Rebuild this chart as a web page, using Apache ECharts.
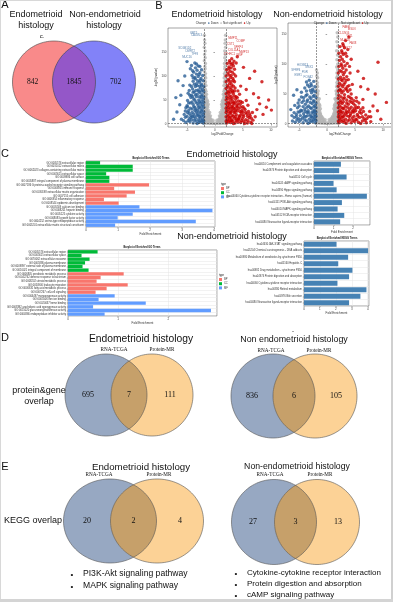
<!DOCTYPE html>
<html><head><meta charset="utf-8">
<script src="https://cdn.jsdelivr.net/npm/echarts@6/dist/echarts.min.js"></script>
<style>html,body{margin:0;padding:0;background:#fff}#c{width:393px;height:602px}</style>
</head><body><div id="c"></div>
<script>
// ---------------- DATA ----------------
const vennA_sets = ['Endometrioid', 'Non-endometrioid'];
const vennA_counts = [842, 1845, 702];
const vennDE_sets = ['RNA-TCGA', 'Protein-MR'];
const vennD_endo = [695, 7, 111];
const vennD_non = [836, 6, 105];
const vennE_endo = [20, 2, 4];
const vennE_non = [27, 3, 13];
const keggShared_endo = ['PI3K-Akt signaling pathway', 'MAPK signaling pathway'];
const keggShared_non = ['Cytokine-cytokine receptor interaction', 'Protein digestion and absorption', 'cAMP signaling pathway'];

// volcano (log2FoldChange, -log10 pvalue)
const volcL_up = [[2.1,2],[2.4,5],[2.8,3],[3.2,6],[3.6,2],[4.1,4],[4.6,3],[5.2,5],[5.8,2],[6.4,4],
[2.2,10],[2.6,13],[3.0,9],[3.5,12],[3.9,10],[4.4,14],[4.9,11],[5.5,9],[6.1,13],[6.8,8],
[2.3,19],[2.7,22],[3.1,18],[3.4,24],[3.8,20],[4.3,17],[4.7,23],[5.1,19],[5.7,21],[6.3,17],[7.2,15],
[2.1,28],[2.5,31],[2.9,27],[3.3,33],[3.7,29],[4.2,32],[4.8,28],[5.4,30],[6.0,26],[6.7,24],
[2.2,37],[2.6,40],[3.0,36],[3.5,42],[3.9,38],[4.5,41],[5.0,36],[5.9,39],
[2.4,46],[2.8,50],[3.2,47],[3.7,52],[4.2,48],[4.9,45],[5.6,49],
[2.1,56],[2.5,60],[2.9,58],[3.3,63],[3.8,57],[4.4,62],
[2.3,68],[2.7,72],[3.1,70],[3.6,75],[4.1,69],
[2.2,80],[2.6,84],[3.0,82],[3.5,88],[4.6,79],
[2.4,93],[2.8,97],[3.2,95],[3.7,100],
[2.3,106],[2.7,110],[3.1,108],[3.5,114],
[2.5,119],[2.9,124],[3.3,121],[3.8,127],
[2.6,132],[3.0,136],[3.4,131],[4.0,140],
[7.5,30],[8.0,42],[8.6,20],[9.2,35],[10.1,29],[7.8,55],[6.9,63],[5.6,72],[8.4,88],[6.2,95],[9.6,50],[7.1,110],[5.1,118],
[2.0,6],[2.5,8],[2.9,7],[3.3,1],[3.8,7],[4.3,9],[4.8,7],[5.3,1],[5.9,7],[6.6,1],
[2.0,15],[2.4,16],[2.8,14],[3.3,16],[3.7,15],[4.2,11],[4.6,18],[5.1,15],[5.8,16],[6.5,12],
[2.0,24],[2.4,26],[2.8,24],[3.2,29],[3.6,25],[4.0,27],[4.5,26],[5.0,25],[5.5,24],[6.2,21],
[2.0,33],[2.4,35],[2.8,33],[3.2,38],[3.6,33],[4.0,36],[4.6,35],[5.2,33],
[2.0,42],[2.4,43],[2.8,44],[3.3,44],[3.7,46],[4.1,42],[4.6,47],
[2.0,50],[2.3,53],[2.7,55],[3.1,53],[3.5,58],[4.0,55],
[2.0,63],[2.4,65],[2.8,66],[3.2,67],[3.5,69],
[2.0,74],[2.4,77],[2.9,76],[3.3,79],[2.0,88],[2.5,90],[2.9,88],[3.3,91],
[2.0,100],[2.5,102],[2.9,101],[3.4,104],[2.1,113],[2.5,115],[2.9,117],[2.2,126],[2.7,128],[3.2,126]];
const volcL_down = [[-2.1,2],[-2.5,4],[-2.9,3],[-3.4,6],[-3.9,2],[-4.5,5],[-5.2,3],
[-2.2,10],[-2.6,13],[-3.0,9],[-3.5,12],[-4.0,15],[-4.6,11],[-5.3,14],[-6.0,10],
[-2.1,20],[-2.5,23],[-2.9,19],[-3.3,25],[-3.8,21],[-4.3,18],[-4.9,24],[-5.5,20],
[-2.3,30],[-2.7,33],[-3.1,29],[-3.6,35],[-4.1,31],[-4.7,28],[-5.2,34],
[-2.2,40],[-2.6,43],[-3.0,39],[-3.4,46],[-3.9,41],[-4.4,44],[-5.0,38],
[-2.1,51],[-2.5,54],[-2.9,50],[-3.3,57],[-3.8,52],[-4.3,55],[-4.9,49],
[-2.3,61],[-2.7,65],[-3.2,62],[-3.7,67],[-4.2,60],[-4.8,64],
[-2.2,72],[-2.6,75],[-3.0,71],[-3.5,78],[-4.0,73],[-4.6,70],
[-2.4,83],[-2.8,87],[-3.3,84],[-3.9,89],[-4.5,81],
[-2.5,95],[-3.0,99],[-3.5,94],[-4.1,101],
[-2.7,107],[-3.2,112],[-3.8,108],[-4.4,115],
[-3.0,121],[-3.6,127],[-4.2,122],
[-6.3,40],[-6.8,25],[-7.4,10],[-6.1,60],[-5.7,80],[-5.4,100],[-6.6,90],[-5.0,130],[-7.0,55],
[-2.0,6],[-2.3,7],[-2.7,7],[-3.2,1],[-3.7,8],[-4.2,9],[-4.8,7],[-5.6,7],
[-2.0,15],[-2.4,17],[-2.8,15],[-3.2,17],[-3.7,16],[-4.3,14],[-5.0,16],
[-2.0,25],[-2.4,27],[-2.8,25],[-3.2,21],[-3.6,28],[-4.1,24],[-4.6,22],[-5.3,27],
[-2.0,35],[-2.4,37],[-2.9,35],[-3.4,31],[-3.8,36],[-4.4,33],[-4.9,36],
[-2.0,45],[-2.4,47],[-2.8,46],[-3.2,43],[-3.6,50],[-4.1,46],[-4.7,44],
[-2.0,56],[-2.4,58],[-2.8,57],[-3.5,61],[-4.0,57],[-4.5,60],
[-2.0,67],[-2.4,69],[-2.9,68],[-3.4,70],[-3.9,66],
[-2.0,78],[-2.4,80],[-2.8,79],[-3.2,80],[-3.7,83],[-4.2,78],
[-2.1,90],[-2.6,91],[-3.1,90],[-3.6,97],[-2.2,101],[-2.8,103],[-3.3,104],[-3.9,96],
[-2.4,113],[-3.5,117],[-4.0,111],[-2.7,120],[-3.3,125]];
const volcL_ns = [[-1.9,1],[-1.4,1.5],[-0.9,1],[-0.4,0.8],[-1.7,4],[-1.2,3.5],[-0.7,3],[-1.9,7],[-1.5,6.5],[-1.0,6],[-0.5,5],
[-1.9,12],[-1.5,11],[-1.1,10],[-0.7,10],[-1.8,17],[-1.4,16],[-1.0,15],[-1.9,22],[-1.5,21],[-1.1,20],[-1.8,27],[-1.4,26],
[-1.9,33],[-1.5,32],[-1.8,39],[-1.3,38],[-1.9,45],[-1.5,44],[-1.8,51],[-1.4,50],[-1.9,57],[-1.6,56],[-1.8,63],[-1.9,69],[-1.6,68],
[-1.9,76],[-1.8,84],[-1.9,92],[-1.8,100],[-1.9,110],[-1.8,120],[-1.9,132],[-1.85,145],[-1.9,160],[-1.85,175],
[-1.6,2.5],[-1.1,2],[-0.6,1.8],[-0.2,2],[-1.7,9],[-1.3,8.5],[-0.8,8],[-0.35,8],[-1.7,13],[-1.3,13],[-0.9,12],[-1.6,19],[-1.2,18],[-0.8,17],
[-1.7,24],[-1.3,23],[-0.95,24],[-1.6,30],[-1.2,29],[-1.7,35],[-1.3,35],[-1.6,42],[-1.2,41],[-1.7,48],[-1.3,47],[-1.6,54],[-1.7,60],[-1.5,62],
[-1.7,72],[-1.6,80],[-1.7,88],[-1.65,96],[-1.7,105],[-1.75,115],[-1.7,126],[-1.75,138],[-1.75,152],[-1.8,168],[-1.9,185],
[1.9,1],[1.4,1.5],[0.9,1],[0.4,0.8],[1.7,4],[1.2,3.5],[0.7,3],[1.9,7],[1.5,6.5],[1.0,6],[0.5,5],
[1.9,12],[1.5,11],[1.1,10],[0.7,10],[1.8,17],[1.4,16],[1.0,15],[1.9,22],[1.5,21],[1.1,20],[1.8,27],[1.4,26],
[1.9,33],[1.5,32],[1.8,39],[1.3,38],[1.9,45],[1.5,44],[1.8,51],[1.4,50],[1.9,57],[1.6,56],[1.8,63],[1.9,69],[1.6,68],
[1.9,76],[1.8,84],[1.9,92],[1.8,100],[1.9,110],[1.8,120],[1.9,132],[1.85,145],[1.9,160],[1.85,175],
[1.6,2.5],[1.1,2],[0.6,1.8],[0.2,2],[1.7,9],[1.3,8.5],[0.8,8],[0.35,8],[1.7,13],[1.3,13],[0.9,12],[1.6,19],[1.2,18],[0.8,17],
[1.7,24],[1.3,23],[0.95,24],[1.6,30],[1.2,29],[1.7,35],[1.3,35],[1.6,42],[1.2,41],[1.7,48],[1.3,47],[1.6,54],[1.7,60],[1.5,62],
[1.7,72],[1.6,80],[1.7,88],[1.65,96],[1.7,105],[1.75,115],[1.7,126],[1.75,138],[1.75,152],[1.8,168],[1.9,185]];
const volcL_upGenes = [['MMP11',3.2,178],['COMP',4.6,172],['CST1',2.8,166],['SFRP4',4.2,160],['COL11A1',3.4,154],['MMP13',5.2,150],['CTHRC1',2.6,146],['IBSP',4.4,144]];
const volcL_downGenes = [['KRT5',-3.8,190],['CALML3',-3.3,184],['SCGB1D2',-5.4,158],['DMRT2',-4.4,152],['TFF3',-3.6,146],['MUC16',-5.0,140]];

const volcR_up = [[2.1,2],[2.6,4],[3.1,3],[3.7,5],[4.3,2],[4.9,4],[5.6,3],[6.3,5],[7.0,2],
[2.2,9],[2.7,11],[3.3,8],[3.9,12],[4.5,10],[5.1,8],[5.8,11],[6.6,9],[7.4,12],
[2.1,16],[2.5,18],[3.0,15],[3.6,19],[4.2,17],[4.8,20],[5.4,16],[6.1,18],[6.9,15],
[2.3,23],[2.8,26],[3.4,22],[4.0,25],[4.6,23],[5.3,27],[6.0,24],[7.6,21],
[2.2,31],[2.7,34],[3.2,30],[3.8,33],[4.4,36],[5.0,31],[5.7,35],
[2.4,39],[2.9,42],[3.5,40],[4.1,44],[4.8,39],[6.4,41],
[2.1,48],[2.6,52],[3.1,49],[3.7,54],[4.3,50],
[2.3,58],[2.8,62],[3.3,59],[3.9,64],
[2.2,68],[2.7,72],[3.2,69],[3.8,74],[4.5,66],
[2.4,78],[2.9,82],[3.5,79],[4.1,85],
[2.3,89],[2.8,93],[3.4,90],[4.0,96],
[2.5,100],[3.0,104],[3.6,101],[4.3,108],
[2.4,112],[2.9,116],[3.5,113],
[2.6,122],[3.1,127],[3.7,124],
[2.8,134],[3.3,139],[3.9,145],
[8.2,30],[9.0,22],[10.6,36],[8.6,50],[7.3,58],[9.1,103],[6.5,76],[5.5,88],[7.8,12],[9.6,8],[6.0,62],
[2.0,5],[2.4,7],[2.9,6],[3.4,1],[4.0,7],[4.6,6],[5.3,7],[6.0,1],[6.8,6],[7.8,4],
[2.0,12],[2.4,13],[2.9,12],[3.5,14],[4.1,14],[4.8,13],[5.5,13],[6.3,12],[7.1,9],
[2.0,20],[2.4,21],[2.8,20],[3.3,18],[3.9,21],[4.5,20],[5.1,22],[5.8,20],[6.5,21],
[2.0,27],[2.5,28],[3.0,26],[3.6,28],[4.3,28],[4.9,26],[5.6,28],[6.4,27],
[2.0,35],[2.4,36],[2.9,37],[3.5,35],[4.1,38],[4.7,34],[5.3,38],
[2.0,43],[2.5,45],[3.1,44],[3.8,46],[4.4,42],[5.2,44],
[2.0,55],[2.4,56],[2.9,55],[3.5,57],[4.1,57],[2.0,63],[2.5,65],[3.0,66],[3.6,62],
[2.0,75],[2.5,74],[3.0,76],[3.4,73],[2.0,85],[2.6,87],[3.1,86],[2.1,96],[2.6,97],[3.2,97],
[2.2,106],[2.7,108],[2.1,118],[2.7,119],[3.3,118],[2.3,129],[2.9,131]];
const volcR_down = [[-2.1,2],[-2.6,4],[-3.1,3],[-3.7,5],[-4.3,2],[-5.0,4],[-5.7,3],
[-2.2,9],[-2.7,11],[-3.2,8],[-3.8,12],[-4.4,10],[-5.1,9],[-5.9,11],
[-2.1,16],[-2.5,18],[-3.0,15],[-3.6,19],[-4.2,17],[-4.9,20],[-5.5,16],[-6.3,14],
[-2.3,23],[-2.8,26],[-3.4,22],[-4.0,25],[-4.7,23],[-5.3,27],
[-2.2,31],[-2.7,34],[-3.3,30],[-3.9,33],[-4.5,36],[-5.8,31],
[-2.4,39],[-2.9,42],[-3.5,40],[-4.2,44],[-5.0,40],
[-2.3,48],[-2.8,52],[-3.6,49],[-4.6,53],
[-2.6,58],[-3.2,62],[-4.0,60],[-5.4,57],
[-2.9,67],[-3.7,70],[-6.0,48],[-6.5,24],
[-2.0,6],[-2.4,7],[-2.8,6],[-3.4,1],[-4.0,7],[-4.7,7],[-5.4,7],[-6.2,5],
[-2.0,13],[-2.4,13],[-2.9,12],[-3.5,14],[-4.1,13],[-4.8,14],[-5.5,12],
[-2.0,20],[-2.3,21],[-2.7,20],[-3.3,19],[-3.9,21],[-4.5,22],[-5.2,20],[-5.9,19],
[-2.0,27],[-2.4,29],[-3.0,27],[-3.6,28],[-4.3,29],[-5.0,30],
[-2.0,35],[-2.4,37],[-3.0,36],[-3.6,37],[-4.2,39],[-5.2,35],
[-2.0,44],[-2.5,46],[-3.1,45],[-3.8,47],[-4.6,45],
[-2.1,54],[-2.5,55],[-3.0,56],[-3.7,55],[-2.2,62],[-2.8,64],[-3.5,65],[-2.4,71],[-3.2,73]];
const volcR_ns = [[-1.9,1],[-1.4,1.5],[-0.9,1],[-0.4,0.8],[-1.7,4],[-1.2,3.5],[-0.7,3],[-1.9,7],[-1.5,6.5],[-1.0,6],[-0.5,5],
[-1.9,11],[-1.5,10],[-1.1,9],[-0.7,9],[-1.8,15],[-1.4,14],[-1.0,13],[-1.9,19],[-1.5,18],[-1.2,17],[-1.8,24],[-1.4,23],
[-1.9,29],[-1.5,28],[-1.8,34],[-1.4,33],[-1.9,40],[-1.6,39],[-1.8,46],[-1.9,52],[-1.7,51],[-1.9,58],[-1.8,65],[-1.9,72],[-1.85,80],[-1.9,90],
[-1.6,2.5],[-1.1,2],[-0.6,1.8],[-0.2,2],[-1.7,8.5],[-1.3,8],[-0.8,7.5],[-0.35,7],[-1.7,12],[-1.3,12],[-0.9,11],[-1.6,16.5],[-1.2,15.5],
[-1.7,21],[-1.3,20],[-1.6,26],[-1.2,25.5],[-1.7,31],[-1.3,30.5],[-1.6,36],[-1.7,43],[-1.4,42],[-1.7,49],[-1.6,55],[-1.7,62],[-1.75,69],[-1.7,77],[-1.75,85],
[1.9,1],[1.4,1.5],[0.9,1],[0.4,0.8],[1.7,4],[1.2,3.5],[0.7,3],[1.9,7],[1.5,6.5],[1.0,6],[0.5,5],
[1.9,11],[1.5,10],[1.1,9],[0.7,9],[1.8,15],[1.4,14],[1.0,13],[1.9,19],[1.5,18],[1.2,17],[1.8,24],[1.4,23],
[1.9,29],[1.5,28],[1.8,34],[1.4,33],[1.9,40],[1.6,39],[1.8,46],[1.9,52],[1.7,51],[1.9,58],[1.8,65],[1.9,72],[1.85,80],[1.9,90],
[1.9,100],[1.85,115],[1.9,130],[1.9,145],
[1.6,2.5],[1.1,2],[0.6,1.8],[0.2,2],[1.7,8.5],[1.3,8],[0.8,7.5],[0.35,7],[1.7,12],[1.3,12],[0.9,11],[1.6,16.5],[1.2,15.5],
[1.7,21],[1.3,20],[1.6,26],[1.2,25.5],[1.7,31],[1.3,30.5],[1.6,36],[1.7,43],[1.4,42],[1.7,49],[1.6,55],[1.7,62],[1.75,69],[1.7,77],[1.75,85],
[1.7,95],[1.75,107],[1.7,122],[1.75,137],[1.8,152]];
const volcR_upGenes = [['PAEP',3.4,162],['MSLN',4.4,158],['CLDN16',3.0,152],['WT1',4.0,146],['MUC16',3.2,140],['PAX8',4.6,134],['SOX17',3.6,126]];
const volcR_downGenes = [['HOXB13',-4.4,98],['MSX1',-3.2,94],['SFRP4',-5.6,90],['PGR',-4.0,86],['ESR1',-5.2,82],['FOXA2',-3.4,78]];
const volcX_ticks = [-5, 0, 5, 10];
const volcY_ticks = [0, 50, 100, 150];

// GO terms
const goEndo_terms = ['GO:0005576 extracellular region','GO:0031012 extracellular matrix','GO:0062023 collagen-containing extracellular matrix','GO:0005615 extracellular space','GO:0009986 cell surface','GO:0005887 integral component of plasma membrane',
'GO:0007186 G protein-coupled receptor signaling pathway','GO:0006955 immune response','GO:0030198 extracellular matrix organization','GO:0007155 cell adhesion','GO:0006954 inflammatory response','GO:0008544 epidermis development',
'GO:0005509 calcium ion binding','GO:0008201 heparin binding','GO:0005125 cytokine activity','GO:0008083 growth factor activity','GO:0004252 serine-type endopeptidase activity','GO:0005201 extracellular matrix structural constituent'];
const goEndo_type = ['CC','CC','CC','CC','CC','CC','BP','BP','BP','BP','BP','BP','MF','MF','MF','MF','MF','MF'];
const goEndo_values = [0.44,1.46,1.46,0.63,0.73,0.73, 1.97,0.88,1.53,1.27,0.56,1.02, 1.67,3.95,1.46,0.99,3.43,0.91];
const goNon_terms = ['GO:0005576 extracellular region','GO:0005615 extracellular space','GO:0070062 extracellular exosome','GO:0005886 plasma membrane','GO:0009897 external side of plasma membrane','GO:0016021 integral component of membrane',
'GO:0006805 xenobiotic metabolic process','GO:0042742 defense response to bacterium','GO:0008202 steroid metabolic process','GO:0050900 leukocyte migration','GO:0006631 fatty acid metabolic process','GO:0007267 cell-cell signaling',
'GO:0004497 monooxygenase activity','GO:0005506 iron ion binding','GO:0020037 heme binding','GO:0008392 arachidonic acid epoxygenase activity','GO:0015020 glucuronosyltransferase activity','GO:0004866 endopeptidase inhibitor activity'];
const goNon_type = goEndo_type;
const goNon_values = [0.59,0.27,0.43,0.34,0.29,0.41, 1.11,0.65,0.57,1.19,0.77,0.55, 0.93,0.61,1.55,0.50,2.85,0.73];
const goTypes = ['BP','CC','MF'];

// KEGG terms
const keggEndo_terms = ['hsa04610 Complement and coagulation cascades','hsa04974 Protein digestion and absorption','hsa04110 Cell cycle','hsa04024 cAMP signaling pathway','hsa04390 Hippo signaling pathway','hsa04060 Cytokine-cytokine receptor interaction - Homo sapiens (human)','hsa04151 PI3K-Akt signaling pathway','hsa04010 MAPK signaling pathway','hsa04512 ECM-receptor interaction','hsa04080 Neuroactive ligand-receptor interaction'];
const keggEndo_values = [1.38,1.29,1.67,1.00,1.16,2.71,1.43,1.21,1.55,1.34];
const keggNon_terms = ['hsa04630 JAK-STAT signaling pathway','hsa05204 Chemical carcinogenesis - DNA adducts','hsa00980 Metabolism of xenobiotics by cytochrome P450','hsa05160 Hepatitis C','hsa00982 Drug metabolism - cytochrome P450','hsa04974 Protein digestion and absorption','hsa04060 Cytokine-cytokine receptor interaction','hsa00830 Retinol metabolism','hsa04976 Bile secretion','hsa04080 Neuroactive ligand-receptor interaction'];
const keggNon_values = [2.04,4.02,2.77,2.15,3.04,2.83,2.10,3.92,3.54,2.83];

// ---------------- STYLE ----------------
const SANS = 'Liberation Sans, Arial, sans-serif';
const SERIF = 'Liberation Serif, Times New Roman, serif';
const C_UP = '#c80000', C_DOWN = '#2b5f96', C_NS = '#b4b4b4';
const GO_COL = {BP:'#F8766D', CC:'#00BA38', MF:'#619CFF'};
const KEGG_COL = '#4682B4';

const chart = echarts.init(document.getElementById('c'), null, {renderer:'canvas', width:393, height:602});

function T(x, y, s, size, o) {
  o = o || {};
  return {type:'text', x:x, y:y, z:100, silent:true, rotation:o.rot||0,
    style:{text:s, fontSize:size, fontFamily:o.serif?SERIF:SANS, fontWeight:o.bold?'bold':'normal',
      fill:o.color||'#111', align:o.align||'center', verticalAlign:'middle',
      textAlign:o.align||'center', textVerticalAlign:'middle'}};
}
function arcPts(cx, cy, rx, ry, t0, t1, n) {
  const p = [];
  for (let i = 0; i <= n; i++) { const t = t0 + (t1 - t0) * i / n; p.push([cx + rx * Math.cos(t), cy + ry * Math.sin(t)]); }
  return p;
}
function venn(cx1, cx2, cy, rx, ry, c1, c2, cOv, stroke, counts, numSize) {
  const els = [];
  els.push({type:'polygon', z:10, shape:{points:arcPts(cx1,cy,rx,ry,0,2*Math.PI,120)}, style:{fill:c1}});
  els.push({type:'polygon', z:11, shape:{points:arcPts(cx2,cy,rx,ry,0,2*Math.PI,120)}, style:{fill:c2}});
  const h = (cx2 - cx1) / 2, t0 = Math.acos(h / rx);
  const lens = arcPts(cx1,cy,rx,ry,-t0,t0,60).concat(arcPts(cx2,cy,rx,ry,Math.PI-t0,Math.PI+t0,60));
  els.push({type:'polygon', z:12, shape:{points:lens}, style:{fill:cOv}});
  els.push({type:'polygon', z:13, shape:{points:arcPts(cx1,cy,rx,ry,0,2*Math.PI,120)}, style:{fill:'none', stroke:stroke, lineWidth:0.6}});
  els.push({type:'polygon', z:13, shape:{points:arcPts(cx2,cy,rx,ry,0,2*Math.PI,120)}, style:{fill:'none', stroke:stroke, lineWidth:0.6}});
  const mid = (cx1 + cx2) / 2;
  els.push(T((cx1 - rx + cx2 - rx) / 2 , cy, String(counts[0]), numSize, {serif:true}));
  els.push(T(mid, cy, String(counts[1]), numSize, {serif:true}));
  els.push(T((cx1 + rx + cx2 + rx) / 2, cy, String(counts[2]), numSize, {serif:true}));
  return els;
}

const graphics = [];
// frame
graphics.push({type:'rect', z:200, shape:{x:0,y:0,width:393,height:1}, style:{fill:'#d8d8d8'}});
graphics.push({type:'rect', z:200, shape:{x:0,y:0,width:1,height:602}, style:{fill:'#d8d8d8'}});
graphics.push({type:'rect', z:200, shape:{x:391,y:0,width:2,height:602}, style:{fill:'#d0d0d0'}});
graphics.push({type:'rect', z:200, shape:{x:0,y:599,width:393,height:3}, style:{fill:'#d4d4d4'}});

// Panel letters
graphics.push(T(5,5,'A',11));
graphics.push(T(159,6,'B',11));
graphics.push(T(5,154,'C',11));
graphics.push(T(5,338,'D',11));
graphics.push(T(5,467,'E',11));

// Panel A
graphics.push(T(36,15,vennA_sets[0],9));
graphics.push(T(36,26,'histology',9));
graphics.push(T(42,36,'c.',6));
graphics.push(T(105,15,vennA_sets[1],9));
graphics.push(T(104,26,'histology',9));
graphics.push(...venn(54, 94, 82, 41.5, 41, '#f98a8a', '#8282f8', '#9457c8', '#444', vennA_counts, 7.5));

// Panel B titles
graphics.push(T(217,15,'Endometrioid histology',9));
graphics.push(T(328,15,'Non-endometrioid histology',9));
function volcLegend(x, y) {
  return {type:'text', x:x, y:y, z:100, silent:true, style:{
    text:'{t|Change}  {b|\u25CF} {t|Down}  {g|\u25CF} {t|Not significant}  {r|\u25CF} {t|Up}',
    fontSize:3, fontFamily:SANS, align:'center', verticalAlign:'middle', textAlign:'center', textVerticalAlign:'middle',
    rich:{t:{fontSize:3,fill:'#333',color:'#333'}, b:{fontSize:3.5,fill:C_DOWN,color:C_DOWN}, g:{fontSize:3.5,fill:C_NS,color:C_NS}, r:{fontSize:3.5,fill:C_UP,color:C_UP}}}};
}
graphics.push(volcLegend(223, 23));
graphics.push(volcLegend(341, 23));

// Panel C titles
graphics.push(T(232,155,'Endometrioid histology',9));
graphics.push(T(232,237,'Non-endometrioid histology',9));
graphics.push(T(151,158,'Barplot of Enriched GO Terms',2.6,{bold:true}));
graphics.push(T(342,158,'Barplot of Enriched KEGG Terms',2.6,{bold:true}));
graphics.push(T(142,247,'Barplot of Enriched GO Terms',2.6,{bold:true}));
graphics.push(T(337,238,'Barplot of Enriched KEGG Terms',2.6,{bold:true}));
graphics.push(T(221,184,'type',2.6,{align:'left'}));
graphics.push(T(219,275,'type',2.6,{align:'left'}));

// Panel D
graphics.push(T(141,339,'Endometrioid histology',10.3));
graphics.push(T(294,340,'Non endometrioid histology',8.9));
graphics.push(T(293,331,'-',6));
graphics.push(T(114,350,vennDE_sets[0],5.2,{serif:true}));
graphics.push(T(162,350,vennDE_sets[1],5.2,{serif:true}));
graphics.push(T(271,351,vennDE_sets[0],5.2,{serif:true}));
graphics.push(T(319,351,vennDE_sets[1],5.2,{serif:true}));
graphics.push(T(39,391,'protein&gene',9));
graphics.push(T(39,402,'overlap',9));
graphics.push(...venn(106, 152, 395, 41, 41, '#97a8c2', '#fcd296', '#c6a06a', '#555', vennD_endo, 8));
graphics.push(...venn(273, 315, 396, 42, 42, '#97a8c2', '#fcd296', '#c6a06a', '#555', vennD_non, 8));

// Panel E
graphics.push(T(141,467,'Endometrioid histology',9.7));
graphics.push(T(297,467,'Non-endometrioid histology',8.7));
graphics.push(T(99,475,vennDE_sets[0],5.2,{serif:true}));
graphics.push(T(159,475,vennDE_sets[1],5.2,{serif:true}));
graphics.push(T(270,475,vennDE_sets[0],5.2,{serif:true}));
graphics.push(T(320,475,vennDE_sets[1],5.2,{serif:true}));
graphics.push(T(33,521,'KEGG overlap',9));
graphics.push(...venn(110, 157, 521, 46.5, 42, '#97a8c2', '#fcd296', '#c6a06a', '#555', vennE_endo, 8));
graphics.push(...venn(274, 317, 522, 42.5, 42.5, '#97a8c2', '#fcd296', '#c6a06a', '#555', vennE_non, 8));
keggShared_endo.forEach((s, i) => {
  graphics.push(T(72, 575 + i * 11.5, '\u2022', 8));
  graphics.push(T(83, 574 + i * 11.5, s, 8.6, {align:'left'}));
});
keggShared_non.forEach((s, i) => {
  graphics.push(T(236, 574 + i * 11, '\u2022', 8));
  graphics.push(T(247, 573 + i * 11, s, 8, {align:'left'}));
});

// ---------------- GRIDS / AXES ----------------
const grids = [
  {left:168, top:28, width:109, height:99},   // 0 volcano L
  {left:288, top:23, width:104, height:104},  // 1 volcano R
  {left:86, top:161, width:129, height:66},   // 2 GO endo
  {left:314, top:161, width:56, height:64},   // 3 KEGG endo
  {left:68, top:250, width:149, height:66},   // 4 GO non
  {left:304, top:241, width:65, height:65}    // 5 KEGG non
].map(g => Object.assign({show:true, borderColor:'#444', borderWidth:0.5, backgroundColor:'#fff', containLabel:false}, g));

const tinyLbl = {fontSize:3, color:'#444', fontFamily:SANS, margin:1.5};
function volcX(gi, min, max) {
  return {gridIndex:gi, type:'value', min:min, max:max, splitLine:{show:false},
    axisLine:{show:false}, axisTick:{show:true, length:1.5, customValues:volcX_ticks, lineStyle:{color:'#444', width:0.5}},
    axisLabel:Object.assign({customValues:volcX_ticks}, tinyLbl),
    name:'log2FoldChange', nameLocation:'middle', nameGap:6, nameTextStyle:{fontSize:3, color:'#333', fontFamily:SANS}};
}
function volcY(gi, min, max) {
  return {gridIndex:gi, type:'value', min:min, max:max, splitLine:{show:false},
    axisLine:{show:false}, axisTick:{show:true, length:1.5, customValues:volcY_ticks, lineStyle:{color:'#444', width:0.5}},
    axisLabel:Object.assign({customValues:volcY_ticks}, tinyLbl),
    name:'-log10(pvalue)', nameLocation:'middle', nameGap:6, nameTextStyle:{fontSize:3, color:'#333', fontFamily:SANS}};
}
function barX(gi, max, interval) {
  return {gridIndex:gi, type:'value', min:0, max:max, interval:interval,
    splitLine:{show:true, lineStyle:{color:'#e4e4e4', width:0.5}},
    axisLine:{show:false}, axisTick:{show:true, length:1.2, lineStyle:{color:'#444', width:0.4}},
    axisLabel:Object.assign({showMaxLabel:false}, tinyLbl),
    name:'Fold Enrichment', nameLocation:'middle', nameGap:5, nameTextStyle:{fontSize:3, color:'#333', fontFamily:SANS}};
}
function barY(gi, terms) {
  return {gridIndex:gi, type:'category', data:terms, inverse:true,
    splitLine:{show:true, lineStyle:{color:'#e4e4e4', width:0.5}},
    axisLine:{show:false}, axisTick:{show:true, length:1.2, alignWithLabel:true, lineStyle:{color:'#444', width:0.4}},
    axisLabel:{fontSize:2.6, color:'#333', fontFamily:SANS, margin:2, interval:0}};
}

const xAxes = [volcX(0,-8.4,11.1), volcX(1,-7.0,11.6), barX(2,4.03,1), barX(3,2.87,1), barX(4,2.97,1), barX(5,4.08,1)];
const yAxes = [volcY(0,-6.25,200), volcY(1,-5,168.3), barY(2,goEndo_terms), barY(3,keggEndo_terms), barY(4,goNon_terms), barY(5,keggNon_terms)];

const series = [];
const dashed = {silent:true, symbol:'none', animation:false,
  lineStyle:{type:'dashed', color:'#333', width:0.5}, label:{show:false},
  data:[{xAxis:-2},{xAxis:2},{yAxis:1.3}]};
function volcSeries(gi, ns, down, up, upG, downG) {
  series.push({type:'scatter', name:'Not significant', xAxisIndex:gi, yAxisIndex:gi, data:ns, symbolSize:3.4, itemStyle:{color:C_NS}, silent:true, markLine:dashed, z:2});
  series.push({type:'scatter', name:'Down', xAxisIndex:gi, yAxisIndex:gi, data:down, symbolSize:3.4, itemStyle:{color:C_DOWN}, silent:true, z:3});
  series.push({type:'scatter', name:'Up', xAxisIndex:gi, yAxisIndex:gi, data:up, symbolSize:3.4, itemStyle:{color:C_UP}, silent:true, z:3});
  [[upG, C_UP],[downG, C_DOWN]].forEach(([g, col]) => {
    series.push({type:'scatter', xAxisIndex:gi, yAxisIndex:gi, silent:true, symbolSize:0.1, z:4,
      data:g.map(d => ({name:d[0], value:[d[1], d[2]]})),
      label:{show:true, position:'inside', formatter:'{b}', fontSize:2.8, color:col, fontFamily:SANS}});
  });
}
volcSeries(0, volcL_ns, volcL_down, volcL_up, volcL_upGenes, volcL_downGenes);
volcSeries(1, volcR_ns, volcR_down, volcR_up, volcR_upGenes, volcR_downGenes);

function goSeries(gi, types, values) {
  goTypes.forEach(t => {
    series.push({type:'bar', name:t, xAxisIndex:gi, yAxisIndex:gi, stack:'go' + gi, silent:true,
      barCategoryGap:'8%', itemStyle:{color:GO_COL[t]},
      data:values.map((v, i) => types[i] === t ? v : '-')});
  });
}
goSeries(2, goEndo_type, goEndo_values);
goSeries(4, goNon_type, goNon_values);
series.push({type:'bar', name:'KEGG', xAxisIndex:3, yAxisIndex:3, data:keggEndo_values, barCategoryGap:'22%', itemStyle:{color:KEGG_COL}, silent:true});
series.push({type:'bar', name:'KEGG', xAxisIndex:5, yAxisIndex:5, data:keggNon_values, barCategoryGap:'22%', itemStyle:{color:KEGG_COL}, silent:true});

const legendBase = {orient:'vertical', itemWidth:3, itemHeight:3, itemGap:1.2, padding:0, selectedMode:false, data:goTypes,
  textStyle:{fontSize:2.6, color:'#333', fontFamily:SANS, padding:[0,0,0,-3]}, icon:'rect'};

chart.setOption({
  animation:false,
  backgroundColor:'#fff',
  grid:grids, xAxis:xAxes, yAxis:yAxes, series:series,
  legend:[Object.assign({left:221, top:187}, legendBase), Object.assign({left:219, top:278}, legendBase)],
  graphic:{elements:graphics}
});
</script></body></html>
